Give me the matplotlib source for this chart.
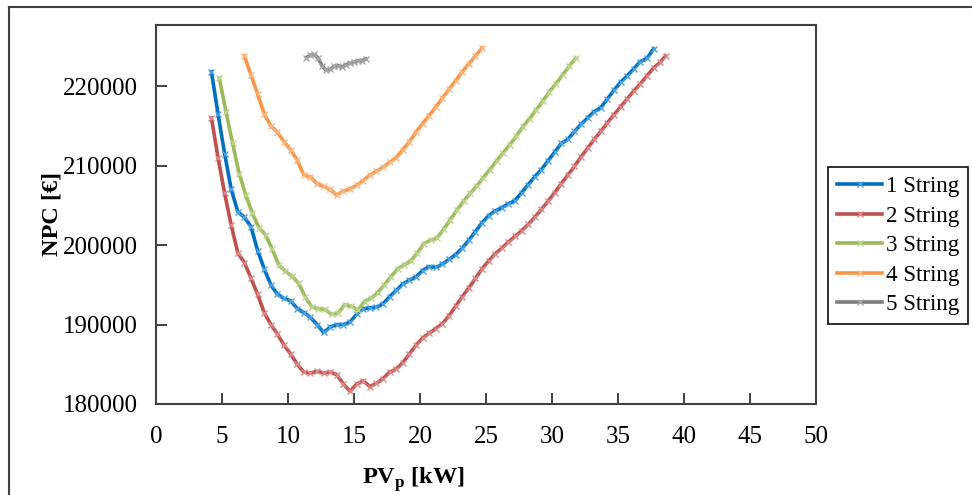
import matplotlib
matplotlib.use("Agg")
import matplotlib.pyplot as plt
from matplotlib.lines import Line2D

# NPC vs PV peak power for 1..5 parallel strings
x1 = [4.2, 4.7, 5.2, 5.7, 6.2, 6.7, 7.2, 7.7, 8.2, 8.7, 9.2, 9.7, 10.2, 10.7, 11.2, 11.7,
      12.2, 12.7, 13.2, 13.7, 14.2, 14.7, 15.2, 15.7, 16.2, 16.7, 17.2, 17.7, 18.2, 18.7,
      19.2, 19.7, 20.2, 20.7, 21.2, 21.7, 22.2, 22.7, 23.2, 23.7, 24.2, 24.7, 25.2, 25.7,
      26.2, 26.7, 27.2, 27.7, 28.2, 28.7, 29.2, 29.7, 30.2, 30.7, 31.2, 31.7, 32.2, 32.7,
      33.2, 33.7, 34.2, 34.7, 35.2, 35.7, 36.2, 36.7, 37.2, 37.7]
y1 = [221800, 216500, 211500, 207000, 204200, 203500, 202300, 199300, 197000, 195000,
      193800, 193300, 193000, 192000, 191500, 190900, 190000, 189000, 189700, 190000,
      190000, 190300, 191300, 192000, 192100, 192200, 192600, 193500, 194300, 195100,
      195600, 196000, 196800, 197300, 197200, 197600, 198200, 198800, 199600, 200600,
      201700, 202800, 203700, 204300, 204700, 205200, 205600, 206600, 207600, 208600,
      209500, 210600, 211700, 212800, 213300, 214300, 215200, 216000, 216800, 217300,
      218400, 219500, 220500, 221300, 222200, 223100, 223500, 224700]

x2 = [4.2, 4.7, 5.2, 5.7, 6.2, 6.7, 7.2, 7.7, 8.2, 8.7, 9.2, 9.7, 10.2, 10.7, 11.2, 11.7,
      12.2, 12.7, 13.2, 13.7, 14.2, 14.7, 15.2, 15.7, 16.2, 16.7, 17.2, 17.7, 18.2, 18.7,
      19.2, 19.7, 20.2, 20.7, 21.2, 21.7, 22.2, 22.7, 23.2, 23.7, 24.2, 24.7, 25.2, 25.7,
      26.2, 26.7, 27.2, 27.7, 28.2, 28.7, 29.2, 29.7, 30.2, 30.7, 31.2, 31.7, 32.2, 32.7,
      33.2, 33.7, 34.2, 34.7, 35.2, 35.7, 36.2, 36.7, 37.2, 37.7, 38.2, 38.6]
y2 = [216000, 211000, 206500, 202500, 199000, 197800, 195800, 193800, 191500, 190000,
      188800, 187400, 186300, 185000, 184000, 183900, 184100, 183900, 184000, 183700,
      182500, 181600, 182500, 182900, 182200, 182600, 183200, 184000, 184400, 185200,
      186300, 187400, 188300, 188900, 189500, 190100, 191100, 192300, 193500, 194600,
      195800, 197000, 198000, 198900, 199600, 200400, 201100, 201800, 202600, 203500,
      204500, 205500, 206600, 207700, 208800, 209900, 211100, 212200, 213300, 214300,
      215400, 216400, 217400, 218400, 219400, 220300, 221300, 222300, 223000, 223800]

x3 = [4.8, 5.3, 5.8, 6.3, 6.8, 7.3, 7.8, 8.3, 8.8, 9.3, 9.8, 10.3, 10.8, 11.3, 11.8, 12.3,
      12.8, 13.3, 13.8, 14.3, 14.8, 15.3, 15.8, 16.3, 16.8, 17.3, 17.8, 18.3, 18.8, 19.3,
      19.8, 20.3, 20.8, 21.3, 21.8, 22.3, 22.8, 23.3, 23.8, 24.3, 24.8, 25.3, 25.8, 26.3,
      26.8, 27.3, 27.8, 28.3, 28.8, 29.3, 29.8, 30.3, 30.8, 31.3, 31.8]
y3 = [221000, 216800, 212800, 209000, 206300, 204000, 202200, 201300, 199500, 197500,
      196700, 196100, 195200, 193500, 192200, 192000, 191900, 191300, 191400, 192500,
      192300, 191800, 192900, 193300, 194000, 195000, 196000, 197000, 197500, 198000,
      199000, 200200, 200600, 200900, 202000, 203200, 204400, 205500, 206500, 207400,
      208500, 209500, 210600, 211600, 212600, 213700, 214900, 215900, 217000, 218100,
      219300, 220300, 221400, 222500, 223500]

x4 = [6.7, 7.2, 7.7, 8.2, 8.7, 9.2, 9.7, 10.2, 10.7, 11.2, 11.7, 12.2, 12.7, 13.2, 13.7,
      14.2, 14.7, 15.2, 15.7, 16.2, 16.7, 17.2, 17.7, 18.2, 18.7, 19.2, 19.7, 20.2, 20.7,
      21.2, 21.7, 22.2, 22.7, 23.2, 23.7, 24.2, 24.7]
y4 = [223800, 221400, 219000, 216500, 215000, 214200, 213000, 212000, 210700, 208800,
      208600, 207700, 207400, 207000, 206300, 206800, 207100, 207500, 208100, 208800,
      209300, 209800, 210400, 211000, 212000, 213000, 214200, 215300, 216300, 217400,
      218500, 219600, 220700, 221800, 222800, 223800, 224800]

x5 = [11.4, 11.7, 12.0, 12.3, 12.6, 12.9, 13.2, 13.5, 13.8, 14.1, 14.4, 14.7, 15.0, 15.3,
      15.6, 15.9]
y5 = [223600, 223900, 224000, 223500, 222500, 222000, 222100, 222500, 222600, 222400,
      222700, 222900, 223000, 223200, 223200, 223400]

labels = ["1 String", "2 String", "3 String", "4 String", "5 String"]
colors = ["#0070C0", "#C0504D", "#9BBB59", "#F79646", "#7F7F7F"]
marker_colors = ["#4FA3E0", "#D98A88", "#BDD48F", "#FAB784", "#A6A6A6"]

xticks = [0, 5, 10, 15, 20, 25, 30, 35, 40, 45, 50]
yticks = [180000, 190000, 200000, 210000, 220000]

serif = "Liberation Serif"
plt.rcParams["mathtext.fontset"] = "custom"
plt.rcParams["mathtext.rm"] = "Liberation Serif:bold"

fig = plt.figure(figsize=(9.72, 4.95), dpi=100)
W, H = 972, 495
ax = fig.add_axes([156 / W, 1 - 404 / H, (816 - 156) / W, (404 - 25) / H])

series = [(x1, y1), (x2, y2), (x3, y3), (x4, y4), (x5, y5)]
for (xs, ys), c, mc, lab in zip(series, colors, marker_colors, labels):
    ax.plot(xs, ys, color=c, lw=2.6, marker="x", ms=5, mec=mc, mew=1.0,
            label=lab, zorder=3)

ax.set_xlim(0, 50)
ax.set_ylim(180000, 227700)
ax.set_xticks(xticks)
ax.set_yticks(yticks)
ax.set_xticklabels([str(t) for t in xticks], family=serif, fontsize=18)
ax.set_yticklabels([str(t) for t in yticks], family=serif, fontsize=18)
ax.tick_params(direction="in", length=8, width=1.3, color="#333333")
ax.tick_params(axis="x", pad=16)
ax.tick_params(axis="y", pad=13)
for s in ax.spines.values():
    s.set_color("#404040")
    s.set_linewidth(1.5)

ax.set_xlabel(r"PV$_\mathregular{p}$ [kW]", family=serif, fontsize=17.5,
              fontweight="bold")
ax.xaxis.set_label_coords(0.39, -0.163)
ax.set_ylabel("NPC [€]", family=serif, fontsize=17.5, fontweight="bold")
ax.yaxis.set_label_coords(-0.142, 0.5)

handles = [Line2D([], [], color=c, lw=2.6, marker="x", ms=5, mec=mc, mew=1.0)
           for c, mc in zip(colors, marker_colors)]
leg = fig.legend(handles, labels, loc="upper left",
                 bbox_to_anchor=(828 / W, 1 - 167 / H), borderaxespad=0,
                 prop={"family": serif, "size": 16.6}, frameon=True, fancybox=False,
                 edgecolor="#202020", framealpha=1, handlelength=1.95,
                 handletextpad=0.15, labelspacing=0.36, borderpad=0.4)
leg.get_frame().set_linewidth(1.3)

# outer chart border (cropped at right and bottom)
fig.add_artist(Line2D([9 / W, 1.0], [1 - 7 / H, 1 - 7 / H], color="#404040", lw=1.5))
fig.add_artist(Line2D([9 / W, 9 / W], [1 - 7 / H, 0.0], color="#404040", lw=1.5))

fig.savefig("out.png", dpi=100)
